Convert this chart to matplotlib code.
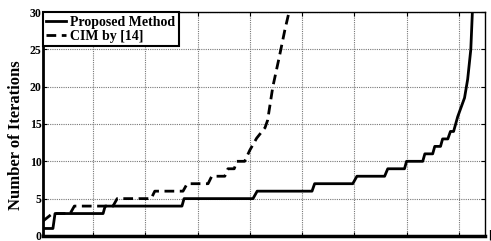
import matplotlib
matplotlib.use('Agg')
import matplotlib.pyplot as plt

# Proposed method (solid) - sorted iteration counts
prop_x = [4, 23, 27, 119, 123, 270, 274, 406, 414, 519, 524, 597, 605, 658, 664,
          696, 700, 731, 735, 750, 754, 765, 769, 779, 784, 790, 798, 811, 817, 823, 826, 828]
prop_y = [1, 1, 3, 3, 4, 4, 5, 5, 6, 6, 7, 7, 8, 8, 9,
          9, 10, 10, 11, 11, 12, 12, 13, 13, 14, 14, 16, 18.5, 21, 25, 30, 32]

# CIM by [14] (dashed)
cim_x = [4, 22, 56, 64, 138, 146, 211, 218, 272, 280, 320, 327, 352, 358, 370, 375,
         390, 400, 413, 429, 434, 444, 457, 467, 475, 479]
cim_y = [2, 3, 3, 4, 4, 5, 5, 6, 6, 7, 7, 8, 8, 9, 9, 10,
         10, 11.5, 13.1, 14.5, 15.5, 20, 24.2, 27.6, 30, 32]

y_ticks = [0, 5, 10, 15, 20, 25, 30]
x_grid = [100, 200, 300, 400, 500, 600, 700, 800]

plt.rcParams['font.family'] = ['Liberation Serif', 'DejaVu Serif']
plt.rcParams['font.weight'] = 'bold'

fig = plt.figure(figsize=(4.91, 2.41), dpi=100)
ax = fig.add_axes([0.0876, 0.021, 0.900, 0.929])

ax.plot(prop_x, prop_y, color='black', linewidth=2, label='Proposed Method')
ax.plot(cim_x, cim_y, color='black', linewidth=2, dashes=(3.5, 2), label='CIM by [14]')

ax.set_xlim(4, 850)
ax.set_ylim(0, 30)
ax.set_yticks(y_ticks)
ax.set_xticks(x_grid)
ax.set_xticklabels([])
ax.tick_params(axis='y', direction='in', length=3, labelsize=8.5, pad=1, right=True)
ax.tick_params(axis='x', direction='in', length=3, top=True)
for lab in ax.get_yticklabels():
    lab.set_fontweight('bold')
ax.grid(True, color='#777777', linestyle=(0, (1, 1)), linewidth=0.8)

ax.spines['left'].set_linewidth(2)
ax.spines['bottom'].set_linewidth(2.5)
ax.spines['top'].set_linewidth(1)
ax.spines['right'].set_linewidth(1)

ax.set_ylabel('Number of Iterations', fontsize=12, fontweight='bold', labelpad=2)
ax.yaxis.set_label_coords(-0.042, 0.45)

leg = ax.legend(loc='upper left', borderaxespad=0, fancybox=False, framealpha=1,
                edgecolor='black', handlelength=1.4, handletextpad=0.3,
                borderpad=0.25, labelspacing=0.1,
                prop={'size': 10, 'weight': 'bold'})
leg.get_frame().set_linewidth(1.5)

fig.text(0.994, 0.0, '[', fontsize=9, ha='left', va='bottom')

fig.savefig('out.png', dpi=100)
